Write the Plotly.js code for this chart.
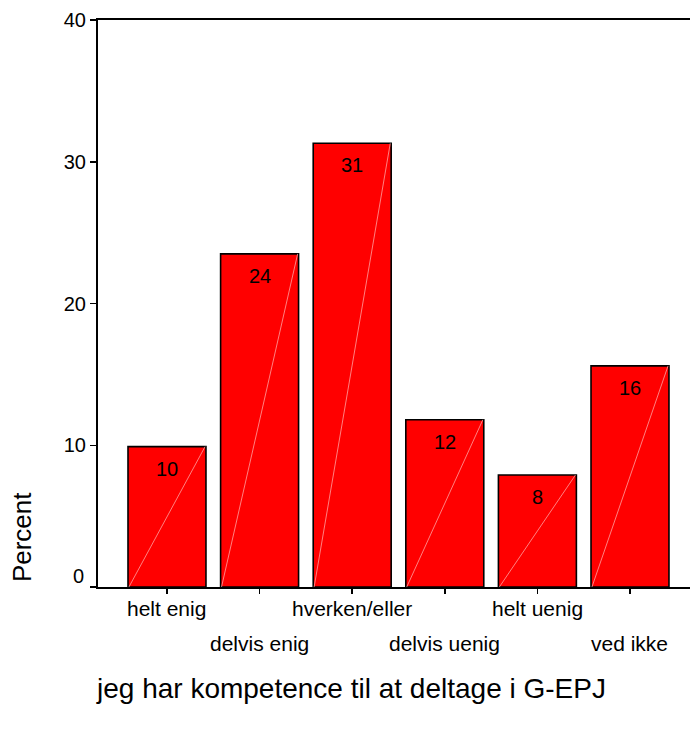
<!DOCTYPE html>
<html>
<head>
<meta charset="utf-8">
<script src="https://cdn.plot.ly/plotly-3.0.1.min.js"></script>
<style>
  html, body { margin: 0; padding: 0; background: #ffffff; }
  #chart { width: 690px; height: 729px; }
</style>
</head>
<body>
<div id="chart"></div>
<script>
// ---- data ----
const categories = ["helt enig", "delvis enig", "hverken/eller", "delvis uenig", "helt uenig", "ved ikke"];
const percentValues = [9.9, 23.5, 31.3, 11.8, 7.9, 15.6];
const barLabels = ["10", "24", "31", "12", "8", "16"];
const yTickValues = [0, 10, 20, 30, 40];
const yTickLabels = ["", "10", "20", "30", "40"];
const zeroLabel = "0";
const yTitle = "Percent";
const xTitle = "jeg har kompetence til at deltage i G-EPJ";

// ---- build chart ----
const FONT = "Liberation Sans, Arial, Helvetica, sans-serif";
const idx = categories.map((_, i) => i);
const BAR_W = 0.842;

const bars = {
  type: "bar",
  x: idx,
  y: percentValues,
  width: BAR_W,
  marker: { color: "#ff0000", line: { color: "#000000", width: 1.6 } },
  hoverinfo: "skip",
  showlegend: false
};

// faint diagonal highlight inside each bar (bottom-left to top-right)
const diagX = [], diagY = [];
idx.forEach((i) => {
  diagX.push(i - BAR_W / 2 + 0.01, i + BAR_W / 2 - 0.01, null);
  diagY.push(0, percentValues[i], null);
});
const diag = {
  type: "scatter",
  mode: "lines",
  x: diagX,
  y: diagY,
  line: { color: "rgba(255,190,190,0.85)", width: 0.8 },
  hoverinfo: "skip",
  showlegend: false
};

const annotations = [];
// bar value labels
idx.forEach((i) => {
  annotations.push({
    x: i, y: percentValues[i], xref: "x", yref: "y",
    text: barLabels[i], showarrow: false,
    xanchor: "center", yanchor: "middle", yshift: -22,
    font: { family: FONT, size: 20, color: "#000000" }
  });
});
// alternating category labels
idx.forEach((i) => {
  annotations.push({
    x: i, y: 0, xref: "x", yref: "paper",
    text: categories[i], showarrow: false,
    xanchor: "center", yanchor: "middle",
    yshift: (i % 2 === 0) ? -21 : -56,
    font: { family: FONT, size: 21, color: "#000000" }
  });
});
// zero label (raised above its tick)
annotations.push({
  x: 0, y: 0, xref: "paper", yref: "y",
  text: zeroLabel, showarrow: false,
  xanchor: "right", yanchor: "middle", xshift: -12, yshift: 11,
  font: { family: FONT, size: 20, color: "#000000" }
});
// y title
annotations.push({
  x: 0, y: 0.088, xref: "paper", yref: "paper",
  text: yTitle, showarrow: false, textangle: -90,
  xanchor: "center", yanchor: "middle", xshift: -76,
  font: { family: FONT, size: 26, color: "#000000" }
});
// x title
annotations.push({
  x: 0.428, y: 0, xref: "paper", yref: "paper",
  text: xTitle, showarrow: false,
  xanchor: "center", yanchor: "middle", yshift: -101,
  font: { family: FONT, size: 28, color: "#000000" }
});

const layout = {
  width: 690,
  height: 729,
  margin: { l: 98, r: 0, t: 20, b: 142, pad: 0 },
  paper_bgcolor: "#ffffff",
  plot_bgcolor: "#ffffff",
  font: { family: FONT, size: 20, color: "#000000" },
  showlegend: false,
  xaxis: {
    range: [-0.745, 5.648],
    tickvals: idx,
    showticklabels: false,
    ticks: "outside",
    ticklen: 5,
    tickwidth: 1.5,
    tickcolor: "#000000",
    showline: true,
    linecolor: "#000000",
    linewidth: 2,
    mirror: true,
    showgrid: false,
    zeroline: false,
    fixedrange: true
  },
  yaxis: {
    range: [0, 40],
    tickvals: yTickValues,
    ticktext: yTickLabels,
    ticks: "outside",
    ticklen: 6,
    tickwidth: 1.5,
    tickcolor: "#000000",
    tickfont: { family: FONT, size: 20, color: "#000000" },
    showline: true,
    linecolor: "#000000",
    linewidth: 2,
    showgrid: false,
    zeroline: false,
    fixedrange: true
  },
  annotations: annotations
};

Plotly.newPlot("chart", [bars, diag], layout, { displayModeBar: false, staticPlot: true });
</script>
</body>
</html>
